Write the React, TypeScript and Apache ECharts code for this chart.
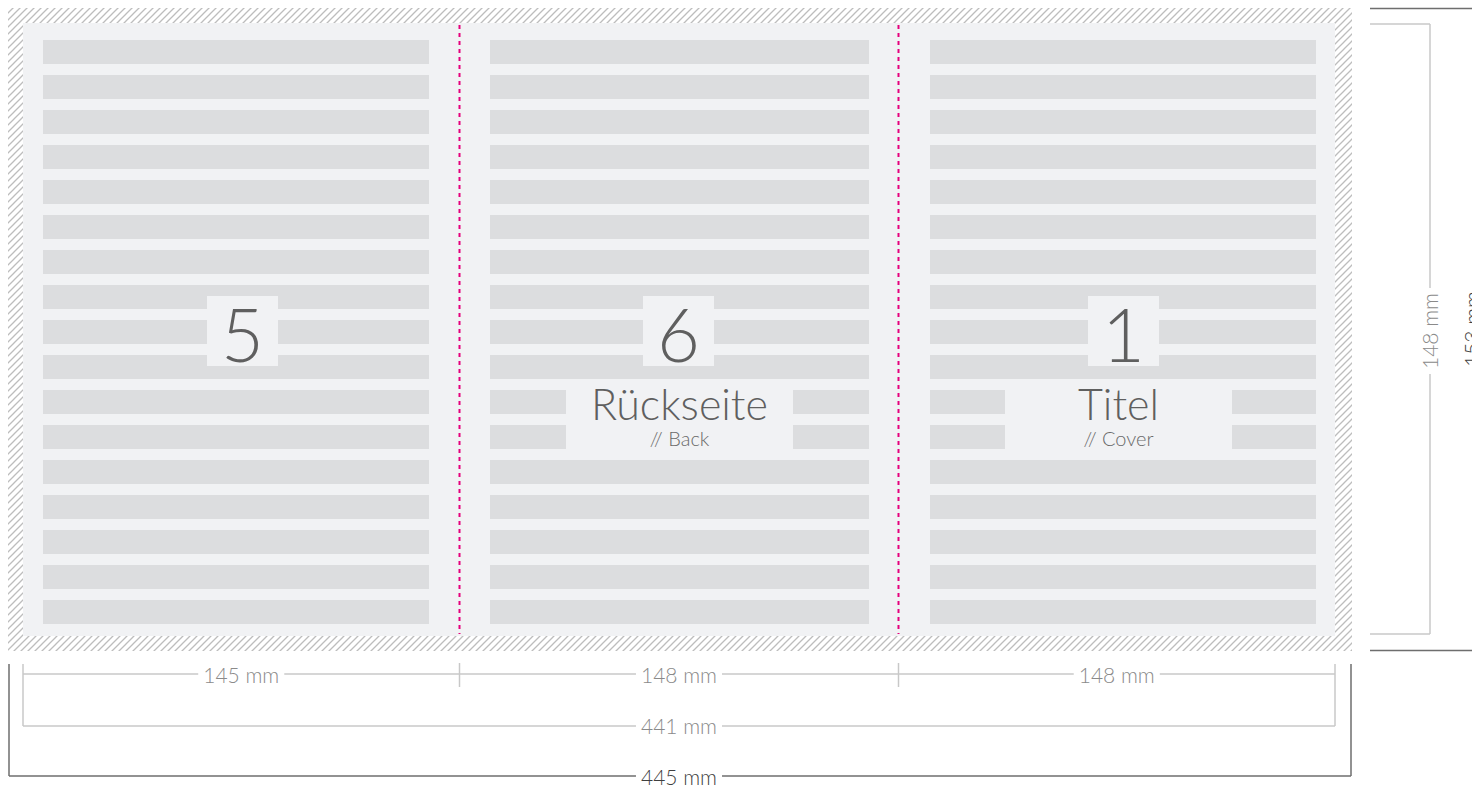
import React, { useEffect, useRef } from 'react';
import * as echarts from 'echarts';

// ---- content ----
const pageNumbers = ['5', '6', '1'];
const pageTitles = ['', 'Rückseite', 'Titel'];
const pageSubtitles = ['', '// Back', '// Cover'];
const panelWidthLabels = ['145 mm', '148 mm', '148 mm'];
const trimWidthLabel = '441 mm';
const bleedWidthLabel = '445 mm';
const trimHeightLabel = '148 mm';
const bleedHeightLabel = '153 mm';
const textLineCount = 17;

// ---- layout (pixels) ----
const BLEED = { x0: 8, y0: 8, x1: 1352, y1: 651 };
const TRIM = { x0: 23, y0: 23, x1: 1335, y1: 636 };
const FOLDS = [459.5, 898.5];
const COLS = [[43, 429], [490, 869], [930, 1316]];
const BOX_CENTERS = [242.5, 678.5, 1123.5];
const TITLE_GAPS: (number[] | null)[] = [null, [566, 793], [1005, 1232]];
const ROW_TOP = 40, ROW_PITCH = 35, ROW_H = 24;

const PANEL = '#f1f2f4';
const BAR = '#dcdddf';
const PINK = '#e5007d';
const LIGHT = '#c8c8c8';
const DARK = '#6e6e6e';
const FONT = 'Lato, "Open Sans", "Noto Sans", sans-serif';

const hatchSvg =
  '<svg xmlns="http://www.w3.org/2000/svg" width="7" height="7">' +
  '<rect width="7" height="7" fill="#ffffff"/>' +
  '<path d="M-1,8 L8,-1 M-1,1 L1,-1 M6,8 L8,6" stroke="#bdbdbd" stroke-width="1.3"/></svg>';
const hatchUrl = 'data:image/svg+xml;charset=utf-8,' + encodeURIComponent(hatchSvg);

function line(x1: number, y1: number, x2: number, y2: number, stroke: string, lineWidth = 1.5, extra: any = {}) {
  return { type: 'line', shape: { x1, y1, x2, y2 }, style: { stroke, lineWidth, ...extra } };
}

function label(text: string, x: number, y: number, fill: string, fontSize: number, rotation = 0) {
  return {
    type: 'text',
    x,
    y,
    rotation,
    z: 10,
    style: {
      text,
      fill,
      fontSize,
      fontFamily: FONT,
      fontWeight: 300,
      align: 'center',
      verticalAlign: 'middle',
      backgroundColor: '#ffffff',
      padding: [0, 5],
    },
  };
}

function buildElements() {
  const els: any[] = [];
  // bleed hatch
  els.push({
    type: 'rect',
    shape: { x: BLEED.x0, y: BLEED.y0, width: BLEED.x1 - BLEED.x0, height: BLEED.y1 - BLEED.y0 },
    style: { fill: { image: hatchUrl, repeat: 'repeat', imageWidth: 7, imageHeight: 7 } },
  });
  // trim panel
  els.push({
    type: 'rect',
    shape: { x: TRIM.x0, y: TRIM.y0, width: TRIM.x1 - TRIM.x0, height: TRIM.y1 - TRIM.y0 },
    style: { fill: PANEL },
  });
  // text lines
  COLS.forEach(([a, b]) => {
    for (let r = 0; r < textLineCount; r++) {
      els.push({
        type: 'rect',
        shape: { x: a, y: ROW_TOP + r * ROW_PITCH, width: b - a, height: ROW_H },
        style: { fill: BAR },
      });
    }
  });
  // fold lines
  FOLDS.forEach((fx) => {
    els.push(line(fx, 25, fx, 634, PINK, 2, { lineDash: [4, 4] }));
  });
  // page numbers + titles
  pageNumbers.forEach((num, i) => {
    const cx = BOX_CENTERS[i];
    els.push({ type: 'rect', shape: { x: cx - 35.5, y: 296, width: 71, height: 70 }, style: { fill: PANEL } });
    els.push({
      type: 'text', x: cx, y: 333,
      style: { text: num, fill: '#5f5f5f', fontSize: 74, fontFamily: FONT, fontWeight: 300, align: 'center', verticalAlign: 'middle' },
    });
    const gap = TITLE_GAPS[i];
    if (gap) {
      const gx = (gap[0] + gap[1]) / 2;
      els.push({ type: 'rect', shape: { x: gap[0], y: 382, width: gap[1] - gap[0], height: 75 }, style: { fill: PANEL } });
      els.push({
        type: 'text', x: gx, y: 403,
        style: { text: pageTitles[i], fill: '#5f5f5f', fontSize: 43, fontFamily: FONT, fontWeight: 300, align: 'center', verticalAlign: 'middle' },
      });
      els.push({
        type: 'text', x: gx, y: 438,
        style: { text: pageSubtitles[i], fill: '#6a6a6a', fontSize: 20, fontFamily: FONT, fontWeight: 300, align: 'center', verticalAlign: 'middle' },
      });
    }
  });

  // bottom dimension lines
  els.push(line(TRIM.x0, 674, TRIM.x1, 674, LIGHT));
  els.push(line(TRIM.x0, 664, TRIM.x0, 726, LIGHT));
  els.push(line(TRIM.x1, 664, TRIM.x1, 726, LIGHT));
  FOLDS.forEach((fx) => els.push(line(fx, 663, fx, 687, LIGHT)));
  els.push(line(TRIM.x0, 726, TRIM.x1, 726, LIGHT));
  const edges = [TRIM.x0, FOLDS[0], FOLDS[1], TRIM.x1];
  panelWidthLabels.forEach((t, i) => {
    els.push(label(t, (edges[i] + edges[i + 1]) / 2, 674, '#8a8a8a', 21));
  });
  els.push(label(trimWidthLabel, (TRIM.x0 + TRIM.x1) / 2, 725, '#8a8a8a', 21));

  els.push(line(9, 664, 9, 776, DARK));
  els.push(line(1351, 664, 1351, 776, DARK));
  els.push(line(9, 776, 1351, 776, DARK));
  els.push(label(bleedWidthLabel, (TRIM.x0 + TRIM.x1) / 2, 776, '#3f3f3f', 21));

  // right dimension lines
  els.push(line(1370, 24, 1430, 24, LIGHT));
  els.push(line(1370, 634, 1430, 634, LIGHT));
  els.push(line(1430, 24, 1430, 634, LIGHT));
  els.push(label(trimHeightLabel, 1429, 331, '#8a8a8a', 21, Math.PI / 2));
  els.push(line(1370, 8.5, 1472, 8.5, DARK));
  els.push(line(1370, 650.5, 1472, 650.5, DARK));
  els.push(label(bleedHeightLabel, 1471, 329, '#3f3f3f', 21, Math.PI / 2));
  return els;
}

export default function App() {
  const ref = useRef<HTMLDivElement>(null);
  useEffect(() => {
    const chart = echarts.init(ref.current!, null, { renderer: 'svg' });
    chart.setOption({
      animation: false,
      backgroundColor: '#ffffff',
      graphic: { elements: buildElements() },
    });
    return () => chart.dispose();
  }, []);
  return <div ref={ref} style={{ position: 'fixed', left: 0, top: 0, width: 1472, height: 785 }} />;
}
